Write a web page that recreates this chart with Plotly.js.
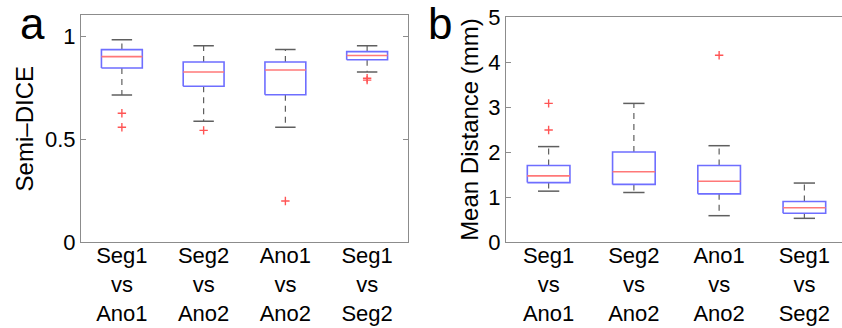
<!DOCTYPE html>
<html>
<head>
<meta charset="utf-8">
<script src="https://cdn.plot.ly/plotly-3.0.1.min.js"></script>
<style>html,body{margin:0;padding:0;background:#fff;}#chart{width:842px;height:328px;}</style>
</head>
<body>
<div id="chart"></div>
<script>
// ---- data ----
var categories = ["Seg1<br>vs<br>Ano1", "Seg2<br>vs<br>Ano2", "Ano1<br>vs<br>Ano2", "Seg1<br>vs<br>Seg2"];
var positions = [1, 2, 3, 4];

// Panel a: Semi-DICE
var diceLowerWhisker = [0.714, 0.586, 0.557, 0.825];
var diceQ1           = [0.845, 0.756, 0.715, 0.885];
var diceMedian       = [0.900, 0.825, 0.835, 0.905];
var diceQ3           = [0.934, 0.874, 0.874, 0.924];
var diceUpperWhisker = [0.982, 0.953, 0.934, 0.953];
var diceOutlierCat   = [1, 1, 2, 3, 4, 4];
var diceOutlierVal   = [0.625, 0.557, 0.542, 0.199, 0.795, 0.786];

// Panel b: Mean Distance (mm)
var distLowerWhisker = [1.13, 1.10, 0.585, 0.526];
var distQ1           = [1.32, 1.28, 1.07, 0.64];
var distMedian       = [1.47, 1.56, 1.35, 0.76];
var distQ3           = [1.70, 2.00, 1.70, 0.90];
var distUpperWhisker = [2.12, 3.08, 2.14, 1.31];
var distOutlierCat   = [1, 1, 3];
var distOutlierVal   = [3.08, 2.49, 4.15];

var diceTicks = [0, 0.5, 1];
var diceTickText = ["0", "0.5", "1"];
var distTicks = [0, 1, 2, 3, 4, 5];
var distTickText = ["0", "1", "2", "3", "4", "5"];
var panelLabels = ["a", "b"];

// ---- styling ----
var FONT = "Liberation Sans, Arial, Helvetica, sans-serif";
var BOXC = "rgb(110,110,255)";
var MEDC = "rgb(255,120,120)";
var WHC = "rgb(95,95,95)";
var OUTC = "rgb(255,85,85)";
var AXC = "rgb(140,140,140)";
var HW = 0.25, CW = 0.125;

function boxTraces(xa, ya, lw, q1, med, q3, uw, oc, ov) {
  var bx = [], by = [], mx = [], my = [], wx = [], wy = [], cx = [], cy = [];
  for (var i = 0; i < positions.length; i++) {
    var c = positions[i];
    bx.push(c - HW, c + HW, c + HW, c - HW, c - HW, null);
    by.push(q1[i], q1[i], q3[i], q3[i], q1[i], null);
    mx.push(c - HW, c + HW, null);
    my.push(med[i], med[i], null);
    wx.push(c, c, null, c, c, null);
    wy.push(q3[i], uw[i], null, q1[i], lw[i], null);
    cx.push(c - CW, c + CW, null, c - CW, c + CW, null);
    cy.push(uw[i], uw[i], null, lw[i], lw[i], null);
  }
  var common = {xaxis: xa, yaxis: ya, mode: "lines", hoverinfo: "skip", showlegend: false, type: "scatter"};
  return [
    Object.assign({x: wx, y: wy, line: {color: WHC, width: 1.2, dash: "6px,5px"}}, common),
    Object.assign({x: cx, y: cy, line: {color: WHC, width: 1.5}}, common),
    Object.assign({x: bx, y: by, line: {color: BOXC, width: 1.6}}, common),
    Object.assign({x: mx, y: my, line: {color: MEDC, width: 1.6}}, common),
    {x: oc, y: ov, xaxis: xa, yaxis: ya, type: "scatter", mode: "markers", showlegend: false, hoverinfo: "skip",
     marker: {symbol: "cross-thin", size: 6, line: {color: OUTC, width: 1.4}}}
  ];
}

var data = []
  .concat(boxTraces("x", "y", diceLowerWhisker, diceQ1, diceMedian, diceQ3, diceUpperWhisker, diceOutlierCat, diceOutlierVal))
  .concat(boxTraces("x2", "y2", distLowerWhisker, distQ1, distMedian, distQ3, distUpperWhisker, distOutlierCat, distOutlierVal));

var W = 842, H = 328;
var xCommon = {
  tickvals: positions, ticktext: categories, ticks: "", showgrid: false, zeroline: false,
  showline: true, linecolor: AXC, linewidth: 1, mirror: true, ticklabelstandoff: -6,
  tickfont: {family: FONT, size: 22, color: "#000"}, fixedrange: true
};
var yCommon = {
  showgrid: false, zeroline: false, showline: true, linecolor: AXC, linewidth: 1,
  ticks: "inside", ticklen: 5, tickcolor: AXC,
  tickfont: {family: FONT, size: 22, color: "#000"}, fixedrange: true
};

var layout = {
  width: W, height: H,
  margin: {l: 0, r: 0, t: 0, b: 0},
  paper_bgcolor: "#fff", plot_bgcolor: "#fff",
  xaxis: Object.assign({}, xCommon, {domain: [81 / W, 408 / W], range: [0.5, 4.5], anchor: "y"}),
  yaxis: Object.assign({}, yCommon, {domain: [(H - 242) / H, (H - 15.4) / H], range: [0, 1.1], anchor: "x",
    tickvals: diceTicks, ticktext: diceTickText, mirror: "ticks",
    title: {text: "Semi–DICE", font: {family: FONT, size: 24, color: "#000"}, standoff: 4}}),
  xaxis2: Object.assign({}, xCommon, {domain: [506 / W, 1], range: [0.5, 4.5 - 5 / 85.2], anchor: "y2"}),
  yaxis2: Object.assign({}, yCommon, {domain: [(H - 242) / H, (H - 17) / H], range: [0, 5], anchor: "x2",
    tickvals: distTicks, ticktext: distTickText, mirror: false,
    title: {text: "Mean Distance (mm)", font: {family: FONT, size: 24, color: "#000"}, standoff: 2}}),
  annotations: [
    {text: panelLabels[0], xref: "paper", yref: "paper", x: 32 / W, y: (H - 23) / H, xanchor: "center", yanchor: "middle",
     height: 42, valign: "middle",
     showarrow: false, font: {family: FONT, size: 44, color: "#000"}},
    {text: panelLabels[1], xref: "paper", yref: "paper", x: 440 / W, y: (H - 23) / H, xanchor: "center", yanchor: "middle",
     height: 42, valign: "middle",
     showarrow: false, font: {family: FONT, size: 44, color: "#000"}}
  ]
};

Plotly.newPlot("chart", data, layout, {staticPlot: true, displayModeBar: false});
</script>
</body>
</html>
